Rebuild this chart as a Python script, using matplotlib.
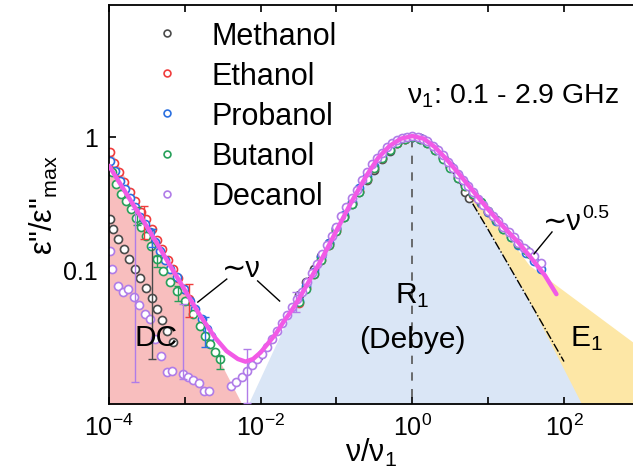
import numpy as np
import matplotlib.pyplot as plt
from matplotlib.ticker import FixedLocator, FixedFormatter, NullLocator

plt.rcParams['font.family'] = ['Liberation Sans', 'DejaVu Sans']
plt.rcParams['mathtext.fontset'] = 'custom'
plt.rcParams['mathtext.rm'] = 'Liberation Sans'
plt.rcParams['mathtext.it'] = 'Liberation Sans:italic'
plt.rcParams['mathtext.bf'] = 'Liberation Sans:bold'

# every value below is log10(nu/nu1) or log10(eps''/eps''max)

# Methanol
meth_x = [-3.987, -3.947, -3.882, -3.803, -3.737, -3.658, -3.592, -3.513, -3.434, -3.368,
          -3.303, -3.237, -3.158,
          -1.5, -1.4, -1.3, -1.2, -1.1, -1.0, -0.9, -0.8, -0.7, -0.6, -0.5, -0.4, -0.3,
          -0.2, -0.1, 0.0, 0.1, 0.2, 0.3, 0.4, 0.5, 0.6, 0.7, 0.75]
meth_y = [-0.621, -0.697, -0.772, -0.848, -0.923, -0.999, -1.067, -1.143, -1.219, -1.302,
          -1.385, -1.468, -1.551,
          -1.2, -1.1, -1.0, -0.9, -0.8, -0.7, -0.61, -0.51, -0.42, -0.33, -0.25, -0.17, -0.11,
          -0.05, -0.02, 0.0, -0.02, -0.05, -0.1, -0.16, -0.23, -0.31, -0.42, -0.46]

# Ethanol
eth_x = [-3.987, -3.934, -3.868, -3.803, -3.724, -3.658, -3.579, -3.513, -3.434, -3.368,
         -3.303, -3.224, -3.158, -3.092, -3.013, -2.947,
         -1.5, -1.4, -1.3, -1.2, -1.1, -1.0, -0.9, -0.8, -0.7, -0.6, -0.5, -0.4, -0.3,
         -0.2, -0.1, 0.0, 0.1, 0.2, 0.3, 0.4, 0.5, 0.6, 0.7, 0.8, 0.9, 1.0, 1.1, 1.2]
eth_y = [-0.114, -0.197, -0.265, -0.341, -0.417, -0.485, -0.568, -0.621, -0.697, -0.78,
         -0.85, -0.93, -1.0, -1.07, -1.15, -1.227,
         -1.26, -1.14, -1.04, -0.93, -0.82, -0.71, -0.6, -0.5, -0.41, -0.32, -0.24, -0.16, -0.09,
         -0.05, -0.02, 0.0, -0.01, -0.04, -0.09, -0.15, -0.22, -0.3, -0.37, -0.44, -0.5, -0.57,
         -0.63, -0.69]

# Probanol
prob_x = [-3.987, -3.921, -3.855, -3.789, -3.724, -3.658, -3.592, -3.526, -3.461, -3.395,
          -3.329, -3.263, -3.197, -3.105, -3.013, -2.934, -2.868, -2.776, -2.711, -2.658,
          -1.5, -1.4, -1.3, -1.2, -1.1, -1.0, -0.9, -0.8, -0.7, -0.6, -0.5, -0.4, -0.3,
          -0.2, -0.1, 0.0, 0.1, 0.2, 0.3, 0.4, 0.5, 0.6, 0.7, 0.8, 0.9, 1.0, 1.1, 1.2,
          1.3, 1.4, 1.5, 1.6, 1.7]
prob_y = [-0.182, -0.258, -0.333, -0.394, -0.462, -0.53, -0.606, -0.659, -0.72, -0.795,
          -0.864, -0.932, -1.0, -1.061, -1.152, -1.242, -1.303, -1.379, -1.455, -1.508,
          -1.24, -1.13, -1.02, -0.91, -0.8, -0.69, -0.59, -0.49, -0.39, -0.3, -0.22, -0.14, -0.08,
          -0.04, -0.01, 0.0, -0.01, -0.04, -0.09, -0.15, -0.22, -0.29, -0.36, -0.43, -0.5, -0.57,
          -0.64, -0.7, -0.76, -0.82, -0.88, -0.94, -1.0]

# Butanol
but_x = [-3.961, -3.908, -3.842, -3.776, -3.711, -3.645, -3.579, -3.513, -3.447, -3.368,
         -3.289, -3.197, -3.105, -3.0, -2.895, -2.803, -2.737, -2.671, -2.605, -2.539,
         -1.5, -1.4, -1.3, -1.2, -1.1, -1.0, -0.9, -0.8, -0.7, -0.6, -0.5, -0.4, -0.3,
         -0.2, -0.1, 0.0, 0.1, 0.2, 0.3, 0.4, 0.5, 0.6, 0.7, 0.8, 0.9, 1.0, 1.1, 1.2,
         1.3, 1.4, 1.5, 1.55]
but_y = [-0.265, -0.356, -0.432, -0.485, -0.545, -0.614, -0.682, -0.75, -0.826, -0.924,
         -1.015, -1.098, -1.167, -1.242, -1.341, -1.432, -1.508, -1.568, -1.629, -1.682,
         -1.25, -1.15, -1.04, -0.93, -0.82, -0.71, -0.61, -0.51, -0.42, -0.32, -0.24, -0.16, -0.1,
         -0.05, -0.02, 0.0, -0.02, -0.05, -0.1, -0.17, -0.24, -0.31, -0.37, -0.43, -0.49, -0.56,
         -0.63, -0.7, -0.76, -0.81, -0.86, -0.89]

# Decanol
dec_x = [-3.987, -3.961, -3.882, -3.816, -3.75, -3.671, -3.605, -3.526, -3.461, -3.395,
         -3.316, -3.237, -3.171, -3.026, -2.961, -2.895, -2.816, -2.75, -2.684,
         -2.395, -2.329, -2.25, -2.184, -2.118, -2.053, -1.987, -1.92, -1.855, -1.79, -1.72,
         -1.655, -1.59, -1.52, -1.455, -1.39, -1.325, -1.26, -1.195, -1.13, -1.065, -1.0,
         -0.935, -0.87, -0.8, -0.735, -0.67, -0.6, -0.535, -0.47, -0.4, -0.335, -0.27,
         -0.205, -0.14, -0.07, 0.0, 0.07, 0.135, 0.2, 0.27, 0.335, 0.4, 0.47, 0.535, 0.6,
         0.67, 0.735, 0.8, 0.87, 0.935, 1.0, 1.07, 1.135, 1.2, 1.27, 1.335, 1.4, 1.47,
         1.535, 1.6, 1.7]
dec_y = [-0.864, -1.0, -1.129, -1.174, -1.152, -1.212, -1.272, -1.34, -1.378, -1.529,
         -1.658, -1.779, -1.771, -1.793, -1.816, -1.839, -1.862, -1.922, -1.922,
         -1.886, -1.856, -1.818, -1.773, -1.727, -1.682, -1.64, -1.59, -1.53, -1.47, -1.41,
         -1.35, -1.29, -1.23, -1.17, -1.1, -1.03, -0.96, -0.89, -0.82, -0.75, -0.68,
         -0.6, -0.53, -0.46, -0.4, -0.33, -0.27, -0.21, -0.16, -0.12, -0.08, -0.05,
         -0.025, -0.01, 0.0, 0.005, 0.0, -0.015, -0.035, -0.07, -0.1, -0.14, -0.19, -0.235, -0.28,
         -0.33, -0.375, -0.42, -0.47, -0.515, -0.56, -0.6, -0.64, -0.68, -0.72, -0.76, -0.8, -0.84,
         -0.87, -0.9, -0.955]

# error bars: (x, y, low, high)
meth_err = [(-3.434, -1.219, -1.68, -0.70)]
eth_err = [(-3.54, -0.636, -0.773, -0.523), (-2.947, -1.227, -1.365, -1.114)]
prob_err = [(-3.434, -0.72, -0.83, -0.70), (-2.737, -1.455, -1.588, -1.361)]
but_err = [(-3.632, -0.606, -0.67, -0.53), (-3.368, -0.924, -0.983, -0.9),
           (-3.092, -1.19, -1.241, -1.127), (-2.539, -1.682, -1.758, -1.659)]
dec_err = [(-3.658, -1.212, -1.854, -0.546), (-3.026, -1.793, -1.83, -1.265),
           (-2.184, -1.81, -2.015, -1.606), (-1.54, -1.25, -1.326, -1.174)]

# fit line (magenta)
fit_x = [-4.0, -3.5, -3.0, -2.8, -2.6, -2.45, -2.3, -2.2, -2.1, -2.0, -1.9, -1.8, -1.7,
         -1.6, -1.5, -1.4, -1.3, -1.2, -1.0, -0.8, -0.6, -0.45, -0.3, -0.15, 0.0, 0.15,
         0.3, 0.45, 0.6, 0.8, 1.0, 1.2, 1.4, 1.6, 1.75, 1.9]
fit_y = [-0.22, -0.68, -1.16, -1.35, -1.52, -1.62, -1.68, -1.70, -1.68, -1.63, -1.56, -1.49,
         -1.40, -1.32, -1.23, -1.13, -1.03, -0.93, -0.71, -0.49, -0.29, -0.16, -0.07, -0.015,
         0.005, -0.015, -0.08, -0.17, -0.27, -0.41, -0.55, -0.68, -0.8, -0.94, -1.05, -1.19]

# Debye curve
debye_x = [-2.0, -1.5, -1.0, -0.75, -0.6, -0.5, -0.35, -0.2, -0.1, 0.0, 0.1, 0.2, 0.35,
           0.5, 0.6, 0.75, 1.0, 1.5, 2.0]
debye_y = [-1.699, -1.199, -0.703, -0.4625, -0.3256, -0.24, -0.128, -0.0445, -0.0115, 0.0,
           -0.0115, -0.0445, -0.128, -0.24, -0.3256, -0.4625, -0.703, -1.199, -1.699]

# shaded regions
dc_x = [-4.0, -2.23]
dc_y = [-0.076, -2.04]
r1_x = [-2.18, -1.5, -1.0, -0.75, -0.6, -0.5, -0.35, -0.2, -0.1, 0.0, 0.1, 0.2, 0.35,
        0.5, 0.6, 0.75, 1.0, 1.5, 2.25]
r1_y = [-2.04, -1.199, -0.703, -0.4625, -0.3256, -0.24, -0.128, -0.0445, -0.0115, 0.0,
        -0.0115, -0.0445, -0.128, -0.24, -0.3256, -0.4625, -0.703, -1.199, -2.04]
e1_x = [0.0, 0.3, 0.6, 1.0, 1.54, 2.95]
e1_y = [0.0, -0.08, -0.28, -0.56, -0.97, -1.57]

labels = ['Methanol', 'Ethanol', 'Probanol', 'Butanol', 'Decanol']
colors = ['#4a4a4a', '#f03c3c', '#2a6fe0', '#27a05a', '#b07ce8']


def P(a):
    return 10 ** np.asarray(a, dtype=float)


fig = plt.figure(figsize=(6.33, 4.77), dpi=100)
ax = fig.add_axes([109 / 633, 72 / 477, 524 / 633, 399 / 477])
ax.set_xscale('log')
ax.set_yscale('log')
ax.set_xlim(1e-4, 10 ** 2.91)
ax.set_ylim(10 ** -2.02, 10 ** 0.995)

bottom = 10 ** -2.1
ax.fill_between(P(dc_x), P(dc_y), bottom, color='#f8bebe', lw=0, zorder=0)
ax.fill_between(P(e1_x), P(e1_y), bottom, color='#fde7a6', lw=0, zorder=0)
ax.fill_between(P(r1_x), P(r1_y), bottom, color='#dae6f6', lw=0, zorder=0.5)

ax.plot(P(debye_x), P(debye_y), color='black', lw=1.0, ls='-.', zorder=1)
ax.plot([1, 1], [10 ** -0.02, bottom], color='#555555', lw=1.2, ls=(0, (5, 5)), zorder=1)

series = [(meth_x, meth_y, meth_err), (eth_x, eth_y, eth_err), (prob_x, prob_y, prob_err),
          (but_x, but_y, but_err), (dec_x, dec_y, dec_err)]
handles = []
for (xs, ys, errs), lab, c in zip(series, labels, colors):
    h, = ax.plot(P(xs), P(ys), 'o', ls='none', ms=5.8, mfc='white', mec=c, mew=1.2,
                 label=lab, zorder=2)
    handles.append(h)
    for ex, ey, elo, ehi in errs:
        ax.errorbar([10 ** ex], [10 ** ey],
                    yerr=[[10 ** ey - 10 ** elo], [10 ** ehi - 10 ** ey]],
                    fmt='none', ecolor=c, elinewidth=1.0, capsize=3.2, capthick=1.0, zorder=3)

ax.plot(P(fit_x), P(fit_y), color='#f25ae6', lw=3.2, solid_capstyle='round', zorder=4)

# pointer lines for the power-law labels
ax.plot(P([-2.829, -2.447]), P([-1.25, -1.076]), color='black', lw=1.0, zorder=5)
ax.plot(P([-2.04, -1.75]), P([-1.09, -1.242]), color='black', lw=1.0, zorder=5)
ax.plot(P([1.605, 1.842]), P([-0.886, -0.72]), color='black', lw=1.0, zorder=5)

ax.text(10 ** -2.51, 10 ** -1.053, '∼ν', fontsize=21, ha='left', va='baseline')
ax.text(10 ** 1.72, 10 ** -0.698, '∼ν', fontsize=21, ha='left', va='baseline')
ax.text(10 ** 2.24, 10 ** -0.607, '0.5', fontsize=14, ha='left', va='baseline')
ax.text(10 ** -3.38, 10 ** -1.514, 'DC', fontsize=21.5, ha='center', va='center')
ax.text(1, 10 ** -1.19, 'R$_1$', fontsize=21.5, ha='center', va='center')
ax.text(1, 10 ** -1.53, '(Debye)', fontsize=21.5, ha='center', va='center')
ax.text(10 ** 2.30, 10 ** -1.52, 'E$_1$', fontsize=21.5, ha='center', va='center')
ax.text(10 ** -0.07, 10 ** 0.262, 'ν$_1$: 0.1 - 2.9 GHz', fontsize=20.5,
        ha='left', va='baseline')

xt = [1e-4, 1e-3, 1e-2, 1e-1, 1e0, 1e1, 1e2]
xl = ['$10^{-4}$', '', '$10^{-2}$', '', '$10^{0}$', '', '$10^{2}$']
ax.xaxis.set_major_locator(FixedLocator(xt))
ax.xaxis.set_major_formatter(FixedFormatter(xl))
ax.xaxis.set_minor_locator(NullLocator())
ax.yaxis.set_major_locator(FixedLocator([0.1, 1]))
ax.yaxis.set_major_formatter(FixedFormatter(['0.1', '1']))
ax.yaxis.set_minor_locator(NullLocator())
ax.tick_params(axis='x', which='major', direction='in', top=True, length=5, width=1.2,
               labelsize=18, pad=7)
ax.tick_params(axis='y', which='major', direction='in', right=False, length=5, width=1.2,
               labelsize=18, pad=8)
ax.spines['right'].set_visible(False)
for s in ['left', 'top', 'bottom']:
    ax.spines[s].set_linewidth(1.3)

ax.set_xlabel('ν/ν$_1$', fontsize=22, labelpad=-3)
ax.set_ylabel('ε"/ε"$_{\\mathrm{max}}$', fontsize=22, labelpad=2)

ax.legend(handles=handles, loc='upper left', bbox_to_anchor=(152 / 633, (477 - 22) / 477),
          bbox_transform=fig.transFigure, frameon=False, fontsize=22, handlelength=1.0,
          handletextpad=0.95, labelspacing=0.33, borderpad=0, borderaxespad=0, markerscale=0.85)

fig.savefig('out.png', dpi=100)
